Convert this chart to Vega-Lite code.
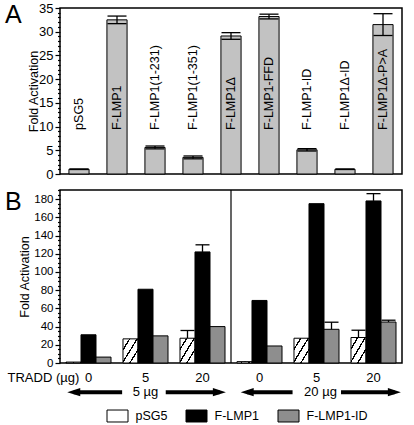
{
"$schema": "https://vega.github.io/schema/vega-lite/v6.json",
"padding": {"left": 4, "top": 1, "right": 5, "bottom": 2},
"spacing": 1,
"config": {
  "font": "Liberation Sans",
  "view": {"stroke": "black", "strokeWidth": 1.5},
  "axis": {"labelColor": "black", "titleColor": "black", "tickColor": "black", "domain": false, "grid": false, "titleFontWeight": "normal", "labelOverlap": false},
  "title": {"color": "black"}
},
"vconcat": [
 {
  "width": 342, "height": 166,
  "title": {"text": "A", "anchor": "start", "frame": "group", "fontSize": 25, "fontWeight": "normal", "baseline": "top", "dx": -55, "dy": 26, "offset": 0},
  "data": {"values": [
    {"construct": "pSG5", "value": 1.0, "lo": 0.95, "hi": 1.05},
    {"construct": "F-LMP1", "value": 32.5, "lo": 31.7, "hi": 33.3},
    {"construct": "F-LMP1(1-231)", "value": 5.6, "lo": 5.3, "hi": 5.9},
    {"construct": "F-LMP1(1-351)", "value": 3.5, "lo": 3.2, "hi": 3.8},
    {"construct": "F-LMP1Δ", "value": 29.1, "lo": 28.4, "hi": 29.8},
    {"construct": "F-LMP1-FFD", "value": 33.2, "lo": 32.7, "hi": 33.7},
    {"construct": "F-LMP1-ID", "value": 5.1, "lo": 4.85, "hi": 5.35},
    {"construct": "F-LMP1Δ-ID", "value": 1.0, "lo": 0.95, "hi": 1.05},
    {"construct": "F-LMP1Δ-P>A", "value": 31.5, "lo": 29.2, "hi": 33.8}
  ]},
  "encoding": {"x": {"field": "construct", "type": "nominal", "sort": null, "axis": null, "scale": {"paddingInner": 0.47, "paddingOuter": 0.235}}},
  "layer": [
   {"mark": {"type": "bar", "fill": "#c2c2c2", "stroke": "black", "strokeWidth": 1},
    "encoding": {"y": {"field": "value", "type": "quantitative", "scale": {"domain": [0, 35], "nice": false},
      "axis": {"values": [0,1,2,3,4,5,6,7,8,9,10,11,12,13,14,15,16,17,18,19,20,21,22,23,24,25,26,27,28,29,30,31,32,33,34,35],
        "labelExpr": "datum.value % 5 === 0 ? datum.label : ''", "labelOverlap": false,
        "tickSize": {"condition": {"test": "datum.value % 5 === 0", "value": 5}, "value": 2.5},
        "tickWidth": 1.2, "labelFontSize": 13, "labelPadding": 2,
        "title": "Fold Activation", "titleFontSize": 12.5, "titlePadding": 2, "titleX": -20}}}},
   {"mark": {"type": "rule", "color": "black", "strokeWidth": 1.3},
    "encoding": {"y": {"field": "lo", "type": "quantitative",
      "axis": {"values": [0,1,2,3,4,5,6,7,8,9,10,11,12,13,14,15,16,17,18,19,20,21,22,23,24,25,26,27,28,29,30,31,32,33,34,35],
        "labelExpr": "datum.value % 5 === 0 ? datum.label : ''", "labelOverlap": false,
        "tickSize": {"condition": {"test": "datum.value % 5 === 0", "value": 5}, "value": 2.5},
        "tickWidth": 1.2, "labelFontSize": 13, "labelPadding": 2,
        "title": "Fold Activation", "titleFontSize": 12.5, "titlePadding": 2, "titleX": -20}}, "y2": {"field": "hi"}}},
   {"mark": {"type": "tick", "size": 19, "thickness": 1.3, "color": "black", "opacity": 1},
    "encoding": {"y": {"field": "hi", "type": "quantitative",
      "axis": {"values": [0,1,2,3,4,5,6,7,8,9,10,11,12,13,14,15,16,17,18,19,20,21,22,23,24,25,26,27,28,29,30,31,32,33,34,35],
        "labelExpr": "datum.value % 5 === 0 ? datum.label : ''", "labelOverlap": false,
        "tickSize": {"condition": {"test": "datum.value % 5 === 0", "value": 5}, "value": 2.5},
        "tickWidth": 1.2, "labelFontSize": 13, "labelPadding": 2,
        "title": "Fold Activation", "titleFontSize": 12.5, "titlePadding": 2, "titleX": -20}}}},
   {"mark": {"type": "tick", "size": 19, "thickness": 1.3, "color": "black", "opacity": 1},
    "encoding": {"y": {"field": "lo", "type": "quantitative",
      "axis": {"values": [0,1,2,3,4,5,6,7,8,9,10,11,12,13,14,15,16,17,18,19,20,21,22,23,24,25,26,27,28,29,30,31,32,33,34,35],
        "labelExpr": "datum.value % 5 === 0 ? datum.label : ''", "labelOverlap": false,
        "tickSize": {"condition": {"test": "datum.value % 5 === 0", "value": 5}, "value": 2.5},
        "tickWidth": 1.2, "labelFontSize": 13, "labelPadding": 2,
        "title": "Fold Activation", "titleFontSize": 12.5, "titlePadding": 2, "titleX": -20}}}},
   {"mark": {"type": "text", "angle": 270, "align": "left", "baseline": "middle", "fontSize": 12.5, "color": "black"},
    "encoding": {"y": {"datum": 9.3, "type": "quantitative",
      "axis": {"values": [0,1,2,3,4,5,6,7,8,9,10,11,12,13,14,15,16,17,18,19,20,21,22,23,24,25,26,27,28,29,30,31,32,33,34,35],
        "labelExpr": "datum.value % 5 === 0 ? datum.label : ''", "labelOverlap": false,
        "tickSize": {"condition": {"test": "datum.value % 5 === 0", "value": 5}, "value": 2.5},
        "tickWidth": 1.2, "labelFontSize": 13, "labelPadding": 2,
        "title": "Fold Activation", "titleFontSize": 12.5, "titlePadding": 2, "titleX": -20}}, "text": {"field": "construct"}}}
  ]
 },
 {
  "width": 342, "height": 173,
  "title": {"text": "B", "anchor": "start", "frame": "group", "fontSize": 25, "fontWeight": "normal", "baseline": "top", "dx": -55, "dy": 31, "offset": 0},
  "layer": [
   {
    "data": {"values": [
      {"group": "5 µg|0", "series": "pSG5", "value": 1.0},
      {"group": "5 µg|0", "series": "F-LMP1", "value": 31},
      {"group": "5 µg|0", "series": "F-LMP1-ID", "value": 6.5},
      {"group": "5 µg|5", "series": "pSG5", "value": 26.5},
      {"group": "5 µg|5", "series": "F-LMP1", "value": 81},
      {"group": "5 µg|5", "series": "F-LMP1-ID", "value": 29.8},
      {"group": "5 µg|20", "series": "pSG5", "value": 27.2, "hi": 35.7},
      {"group": "5 µg|20", "series": "F-LMP1", "value": 122, "hi": 129.8},
      {"group": "5 µg|20", "series": "F-LMP1-ID", "value": 40},
      {"group": "20 µg|0", "series": "pSG5", "value": 1.5},
      {"group": "20 µg|0", "series": "F-LMP1", "value": 68.7},
      {"group": "20 µg|0", "series": "F-LMP1-ID", "value": 18.7},
      {"group": "20 µg|5", "series": "pSG5", "value": 27.2},
      {"group": "20 µg|5", "series": "F-LMP1", "value": 175},
      {"group": "20 µg|5", "series": "F-LMP1-ID", "value": 37, "hi": 44.8},
      {"group": "20 µg|20", "series": "pSG5", "value": 28, "hi": 36},
      {"group": "20 µg|20", "series": "F-LMP1", "value": 178, "hi": 186},
      {"group": "20 µg|20", "series": "F-LMP1-ID", "value": 45, "hi": 47}
    ]},
    "encoding": {
      "x": {"field": "group", "type": "nominal", "sort": null, "scale": {"paddingInner": 0.21, "paddingOuter": 0.105},
        "axis": {"labelExpr": "split(datum.label, '|')[1]", "labelAngle": 0, "ticks": false, "labelPadding": 8, "labelFontSize": 13,
          "title": "TRADD (µg)", "titleAngle": 0, "titleAlign": "left", "titleBaseline": "middle", "titleX": -53, "titleY": 14, "titleFontSize": 13}},
      "xOffset": {"field": "series", "type": "nominal", "sort": null, "scale": {"paddingInner": 0}}
    },
    "layer": [
     {"mark": {"type": "bar", "stroke": "black", "strokeWidth": 1},
      "encoding": {
        "y": {"field": "value", "type": "quantitative", "scale": {"domain": [0, 190], "nice": false},
          "axis": {"values": [0,5,10,15,20,25,30,35,40,45,50,55,60,65,70,75,80,85,90,95,100,105,110,115,120,125,130,135,140,145,150,155,160,165,170,175,180,185,190],
            "labelExpr": "datum.value % 20 === 0 ? datum.label : ''", "labelOverlap": false,
            "tickSize": {"condition": {"test": "datum.value % 20 === 0", "value": 5}, "value": 2.5},
            "tickWidth": 1.2, "labelFontSize": 11.5, "labelPadding": 2,
            "title": "Fold Activation", "titleFontSize": 12.5, "titlePadding": 2, "titleX": -29}},
        "fill": {"condition": {"test": "datum.series === 'pSG5'",
            "value": {"gradient": "linear", "x1": 0, "y1": 0, "x2": 1, "y2": 1, "stops": [
                {"offset": 0, "color": "white"}, {"offset": 0.2, "color": "white"}, {"offset": 0.2, "color": "black"}, {"offset": 0.25, "color": "black"},
                {"offset": 0.25, "color": "white"}, {"offset": 0.45, "color": "white"}, {"offset": 0.45, "color": "black"}, {"offset": 0.5, "color": "black"},
                {"offset": 0.5, "color": "white"}, {"offset": 0.7, "color": "white"}, {"offset": 0.7, "color": "black"}, {"offset": 0.75, "color": "black"},
                {"offset": 0.75, "color": "white"}, {"offset": 1, "color": "white"}]}},
          "field": "series", "type": "nominal", "sort": null,
          "scale": {"domain": ["pSG5", "F-LMP1", "F-LMP1-ID"], "range": ["white", "black", "#8e8e8e"]},
          "legend": {"orient": "none", "legendX": 46.5, "legendY": 397, "direction": "horizontal", "title": null,
            "symbolType": "M-1,-0.57H1V0.57H-1Z", "symbolSize": 441, "symbolStrokeColor": "black", "symbolStrokeWidth": 1,
            "labelFontSize": 12.5, "labelColor": "black", "labelOffset": 7, "columnPadding": 16}}
      }},
     {"transform": [{"filter": "isValid(datum.hi)"}],
      "mark": {"type": "rule", "color": "black", "strokeWidth": 1.3},
      "encoding": {"y": {"field": "value", "type": "quantitative",
          "axis": {"values": [0,5,10,15,20,25,30,35,40,45,50,55,60,65,70,75,80,85,90,95,100,105,110,115,120,125,130,135,140,145,150,155,160,165,170,175,180,185,190],
            "labelExpr": "datum.value % 20 === 0 ? datum.label : ''", "labelOverlap": false,
            "tickSize": {"condition": {"test": "datum.value % 20 === 0", "value": 5}, "value": 2.5},
            "tickWidth": 1.2, "labelFontSize": 11.5, "labelPadding": 2,
            "title": "Fold Activation", "titleFontSize": 12.5, "titlePadding": 2, "titleX": -29}}, "y2": {"field": "hi"}}},
     {"transform": [{"filter": "isValid(datum.hi)"}],
      "mark": {"type": "tick", "size": 14, "thickness": 1.3, "color": "black", "opacity": 1},
      "encoding": {"y": {"field": "hi", "type": "quantitative",
          "axis": {"values": [0,5,10,15,20,25,30,35,40,45,50,55,60,65,70,75,80,85,90,95,100,105,110,115,120,125,130,135,140,145,150,155,160,165,170,175,180,185,190],
            "labelExpr": "datum.value % 20 === 0 ? datum.label : ''", "labelOverlap": false,
            "tickSize": {"condition": {"test": "datum.value % 20 === 0", "value": 5}, "value": 2.5},
            "tickWidth": 1.2, "labelFontSize": 11.5, "labelPadding": 2,
            "title": "Fold Activation", "titleFontSize": 12.5, "titlePadding": 2, "titleX": -29}}}}
    ]
   },
   {
    "layer": [
     {"data": {"values": [{"divider": "5 µg | 20 µg"}]},
      "mark": {"type": "rule", "color": "black", "strokeWidth": 1.2},
      "encoding": {"x": {"datum": 3, "type": "quantitative", "scale": {"domain": [0, 6], "nice": false}, "axis": null},
        "y": {"datum": 0, "type": "quantitative",
          "axis": {"values": [0,5,10,15,20,25,30,35,40,45,50,55,60,65,70,75,80,85,90,95,100,105,110,115,120,125,130,135,140,145,150,155,160,165,170,175,180,185,190],
            "labelExpr": "datum.value % 20 === 0 ? datum.label : ''", "labelOverlap": false,
            "tickSize": {"condition": {"test": "datum.value % 20 === 0", "value": 5}, "value": 2.5},
            "tickWidth": 1.2, "labelFontSize": 11.5, "labelPadding": 2,
            "title": "Fold Activation", "titleFontSize": 12.5, "titlePadding": 2, "titleX": -29}}, "y2": {"datum": 190}}},
     {"data": {"values": [
        {"dose": "5 µg", "from": 0.24, "to": 1.09},
        {"dose": "5 µg", "from": 1.855, "to": 2.8},
        {"dose": "20 µg", "from": 3.28, "to": 4.08},
        {"dose": "20 µg", "from": 4.93, "to": 5.87}]},
      "mark": {"type": "rule", "color": "black", "strokeWidth": 4},
      "encoding": {"x": {"field": "from", "type": "quantitative", "scale": {"domain": [0, 6], "nice": false}, "axis": null},
        "x2": {"field": "to"}, "y": {"datum": -32, "type": "quantitative",
          "axis": {"values": [0,5,10,15,20,25,30,35,40,45,50,55,60,65,70,75,80,85,90,95,100,105,110,115,120,125,130,135,140,145,150,155,160,165,170,175,180,185,190],
            "labelExpr": "datum.value % 20 === 0 ? datum.label : ''", "labelOverlap": false,
            "tickSize": {"condition": {"test": "datum.value % 20 === 0", "value": 5}, "value": 2.5},
            "tickWidth": 1.2, "labelFontSize": 11.5, "labelPadding": 2,
            "title": "Fold Activation", "titleFontSize": 12.5, "titlePadding": 2, "titleX": -29}}}},
     {"data": {"values": [
        {"dose": "5 µg", "dir": "left", "at": 0.241},
        {"dose": "5 µg", "dir": "right", "at": 2.796},
        {"dose": "20 µg", "dir": "left", "at": 3.284},
        {"dose": "20 µg", "dir": "right", "at": 5.866}]},
      "mark": {"type": "point", "filled": true, "color": "black", "opacity": 1, "size": 169, "strokeWidth": 0},
      "encoding": {"x": {"field": "at", "type": "quantitative", "scale": {"domain": [0, 6], "nice": false}, "axis": null},
        "y": {"datum": -32, "type": "quantitative",
          "axis": {"values": [0,5,10,15,20,25,30,35,40,45,50,55,60,65,70,75,80,85,90,95,100,105,110,115,120,125,130,135,140,145,150,155,160,165,170,175,180,185,190],
            "labelExpr": "datum.value % 20 === 0 ? datum.label : ''", "labelOverlap": false,
            "tickSize": {"condition": {"test": "datum.value % 20 === 0", "value": 5}, "value": 2.5},
            "tickWidth": 1.2, "labelFontSize": 11.5, "labelPadding": 2,
            "title": "Fold Activation", "titleFontSize": 12.5, "titlePadding": 2, "titleX": -29}},
        "shape": {"field": "dir", "type": "nominal", "scale": {"domain": ["left", "right"], "range": ["M-1,0L1,-0.62L1,0.62Z", "M1,0L-1,-0.62L-1,0.62Z"]}, "legend": null}}},
     {"data": {"values": [
        {"dose": "5 µg", "at": 1.5},
        {"dose": "20 µg", "at": 4.57}]},
      "mark": {"type": "text", "fontSize": 13, "color": "black", "baseline": "middle", "align": "center"},
      "encoding": {"x": {"field": "at", "type": "quantitative", "scale": {"domain": [0, 6], "nice": false}, "axis": null},
        "y": {"datum": -32, "type": "quantitative",
          "axis": {"values": [0,5,10,15,20,25,30,35,40,45,50,55,60,65,70,75,80,85,90,95,100,105,110,115,120,125,130,135,140,145,150,155,160,165,170,175,180,185,190],
            "labelExpr": "datum.value % 20 === 0 ? datum.label : ''", "labelOverlap": false,
            "tickSize": {"condition": {"test": "datum.value % 20 === 0", "value": 5}, "value": 2.5},
            "tickWidth": 1.2, "labelFontSize": 11.5, "labelPadding": 2,
            "title": "Fold Activation", "titleFontSize": 12.5, "titlePadding": 2, "titleX": -29}}, "text": {"field": "dose"}}}
    ]
   }
  ],
  "resolve": {"scale": {"x": "independent"}, "axis": {"x": "independent"}}
 }
]
}
